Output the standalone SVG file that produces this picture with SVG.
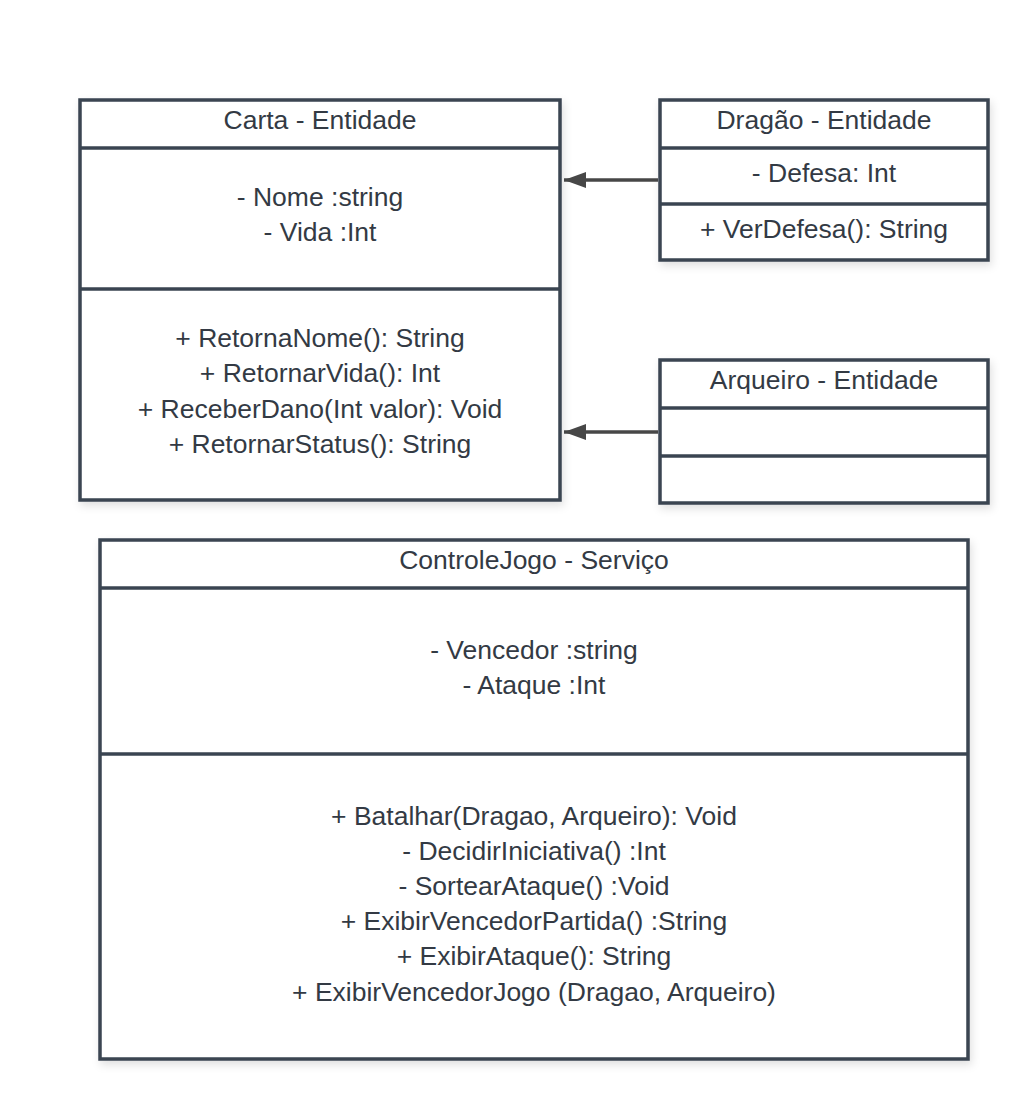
<svg xmlns="http://www.w3.org/2000/svg" width="1028" height="1100" viewBox="0 0 1028 1100">
<style>
.box{fill:#ffffff;stroke:#3a4451;stroke-width:3.5;filter:url(#sh)}
.div{stroke:#3a4451;stroke-width:3.5}
text{font-family:"Liberation Sans",Arial,sans-serif;font-size:26.5px;fill:#333a44;text-anchor:middle;dominant-baseline:central}
.conn{stroke:#474747;stroke-width:3.5;fill:none}
</style>
<defs>
<filter id="sh" x="-10%" y="-10%" width="120%" height="125%">
<feDropShadow dx="2" dy="4" stdDeviation="4" flood-color="#000" flood-opacity="0.12"/>
</filter>
<marker id="arr" markerUnits="userSpaceOnUse" markerWidth="24" markerHeight="18" refX="23" refY="9" orient="auto" viewBox="0 0 24 18">
<path d="M23,9 L1,1 L1,17 Z" fill="#474747"/>
</marker>
</defs>
<rect width="1028" height="1100" fill="#ffffff"/>
<g id="carta">
<rect class="box" x="80" y="100" width="480" height="400"/>
<line class="div" x1="80" y1="148" x2="560" y2="148"/>
<line class="div" x1="80" y1="289" x2="560" y2="289"/>
<text x="320" y="120">Carta - Entidade</text>
<text x="320" y="197">- Nome :string</text>
<text x="320" y="232">- Vida :Int</text>
<text x="320" y="338">+ RetornaNome(): String</text>
<text x="320" y="373">+ RetornarVida(): Int</text>
<text x="320" y="409">+ ReceberDano(Int valor): Void</text>
<text x="320" y="444">+ RetornarStatus(): String</text>
</g>
<g id="dragao">
<rect class="box" x="660" y="100" width="328" height="160"/>
<line class="div" x1="660" y1="148" x2="988" y2="148"/>
<line class="div" x1="660" y1="204" x2="988" y2="204"/>
<text x="824" y="120">Dragão - Entidade</text>
<text x="824" y="173">- Defesa: Int</text>
<text x="824" y="229">+ VerDefesa(): String</text>
</g>
<g id="arqueiro">
<rect class="box" x="660" y="360" width="328" height="143"/>
<line class="div" x1="660" y1="408" x2="988" y2="408"/>
<line class="div" x1="660" y1="456" x2="988" y2="456"/>
<text x="824" y="380">Arqueiro - Entidade</text>
</g>
<g id="controlejogo">
<rect class="box" x="100" y="540" width="868" height="519"/>
<line class="div" x1="100" y1="588" x2="968" y2="588"/>
<line class="div" x1="100" y1="754" x2="968" y2="754"/>
<text x="534" y="560">ControleJogo - Serviço</text>
<text x="534" y="650">- Vencedor :string</text>
<text x="534" y="685">- Ataque :Int</text>
<text x="534" y="816">+ Batalhar(Dragao, Arqueiro): Void</text>
<text x="534" y="851">- DecidirIniciativa() :Int</text>
<text x="534" y="886">- SortearAtaque() :Void</text>
<text x="534" y="921">+ ExibirVencedorPartida() :String</text>
<text x="534" y="956">+ ExibirAtaque(): String</text>
<text x="534" y="992">+ ExibirVencedorJogo (Dragao, Arqueiro)</text>
</g>
<g id="connectors">
<line class="conn" x1="658" y1="180" x2="564" y2="180" marker-end="url(#arr)"/>
<line class="conn" x1="658" y1="432" x2="564" y2="432" marker-end="url(#arr)"/>
</g>
</svg>
